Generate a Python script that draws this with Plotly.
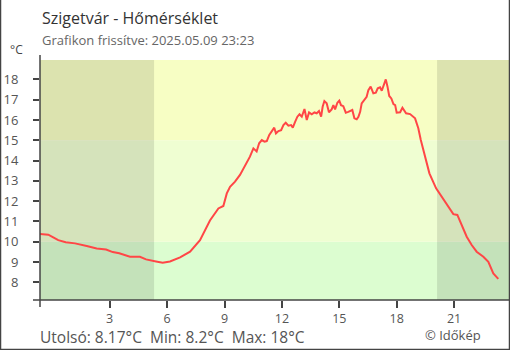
import plotly.graph_objects as go

# ---- data ----
hours = [-0.64, -0.21, 0.05, 0.31, 0.70, 1.19, 1.80, 2.32, 2.81, 3.16, 3.50, 4.06, 4.58, 4.90,
         5.42, 5.77, 6.15, 6.68, 7.20, 7.72, 8.24, 8.68, 8.94, 9.12, 9.29, 9.55, 9.81, 10.07,
         10.33, 10.51, 10.68, 10.81, 10.95, 11.09, 11.21, 11.34, 11.47, 11.60, 11.69, 11.82,
         11.96, 12.08, 12.20, 12.34, 12.48, 12.57, 12.69, 12.81, 12.92, 13.04, 13.18, 13.30,
         13.42, 13.56, 13.70, 13.82, 13.94, 14.05, 14.13, 14.22, 14.34, 14.46, 14.60, 14.69,
         14.78, 14.90, 15.00, 15.09, 15.21, 15.34, 15.47, 15.60, 15.68, 15.79, 15.91, 16.00,
         16.09, 16.17, 16.31, 16.43, 16.52, 16.64, 16.78, 16.91, 17.01, 17.13, 17.22, 17.31,
         17.43, 17.52, 17.61, 17.72, 17.83, 17.92, 18.00, 18.18, 18.30, 18.49, 18.70, 18.96,
         19.13, 19.26, 19.48, 19.71, 20.06, 20.35, 20.62, 20.96, 21.17, 21.40, 21.66, 21.92,
         22.18, 22.53, 22.79, 23.05, 23.31]
temps = [10.38, 10.35, 10.22, 10.08, 9.98, 9.92, 9.79, 9.67, 9.62, 9.49, 9.43, 9.26, 9.26, 9.13,
         9.03, 8.97, 9.03, 9.23, 9.51, 10.08, 11.05, 11.64, 11.76, 12.38, 12.71, 12.96, 13.29, 13.73,
         14.19, 14.60, 14.45, 14.85, 15.01, 14.93, 14.96, 15.26, 15.45, 15.62, 15.34, 15.45,
         15.50, 15.75, 15.86, 15.72, 15.75, 15.62, 15.91, 16.16, 16.28, 16.16, 16.54, 16.00,
         16.37, 16.28, 16.37, 16.33, 16.44, 16.16, 16.65, 16.93, 16.82, 16.38, 16.52, 16.73,
         16.52, 16.85, 16.95, 16.73, 16.68, 16.36, 16.40, 16.45, 16.49, 16.08, 16.03, 16.16,
         16.40, 16.82, 16.98, 17.14, 17.47, 17.64, 17.31, 17.34, 17.56, 17.61, 17.44, 17.67,
         18.00, 17.64, 17.18, 17.06, 16.78, 16.73, 16.36, 16.38, 16.60, 16.33, 16.29, 16.08,
         15.59, 15.01, 14.19, 13.37, 12.63, 12.22, 11.81, 11.36, 11.32, 10.82, 10.25, 9.84,
         9.51, 9.26, 9.01, 8.44, 8.17]

x_tickvals = [3, 6, 9, 12, 15, 18, 21]
y_tickvals = [8, 9, 10, 11, 12, 13, 14, 15, 16, 17, 18]
band_edges = [10, 15]
sunrise = 5.32
sunset = 20.11

title = "Szigetvár - Hőmérséklet"
subtitle = "Grafikon frissítve: 2025.05.09 23:23"
footer = "Utolsó: 8.17°C  Min: 8.2°C  Max: 18°C"
credit = "© Időkép"
unit = "°C"

# ---- layout geometry ----
W, H = 510, 350
ML, MR, MT, MB = 40, 1, 55, 50
PW, PH = W - ML - MR, H - MT - MB
X_RANGE = [-0.643, 23.87]
Y_RANGE = [7.13, 19.2]
Y_BG_TOP = 18.95
FONT = "Open Sans"


def px(x):
    return (x - ML) / PW


def py(y):
    return (H - MB - y) / PH


fig = go.Figure()
fig.add_trace(go.Scatter(x=hours, y=temps, mode="lines",
                         line=dict(color="#ff4646", width=2), hoverinfo="skip",
                         showlegend=False))

shapes = []
band_colors = ["#dcfdd0", "#effed2", "#f7fec4"]
bounds = [Y_RANGE[0]] + band_edges + [Y_BG_TOP]
for i, c in enumerate(band_colors):
    shapes.append(dict(type="rect", xref="x", yref="y", x0=X_RANGE[0], x1=X_RANGE[1],
                       y0=bounds[i], y1=bounds[i + 1], fillcolor=c, line_width=0,
                       layer="below"))
for a, b in [(X_RANGE[0], sunrise), (sunset, X_RANGE[1])]:
    shapes.append(dict(type="rect", xref="x", yref="y", x0=a, x1=b,
                       y0=Y_RANGE[0], y1=Y_BG_TOP, fillcolor="rgba(0,0,0,0.105)",
                       line_width=0, layer="below"))
# axis lines crossing each other
shapes.append(dict(type="line", xref="paper", yref="paper", x0=0, x1=0,
                   y0=py(307), y1=1, line=dict(color="#444", width=1.5)))
shapes.append(dict(type="line", xref="paper", yref="paper", x0=px(33), x1=1,
                   y0=0, y1=0, line=dict(color="#444", width=1.5)))
# frame
shapes.append(dict(type="line", xref="paper", yref="paper", x0=px(0.5), x1=px(0.5),
                   y0=py(0), y1=py(350), line=dict(color="#444", width=1.5)))
shapes.append(dict(type="line", xref="paper", yref="paper", x0=px(509.5), x1=px(509.5),
                   y0=py(0), y1=py(350), line=dict(color="#444", width=1.5)))
shapes.append(dict(type="line", xref="paper", yref="paper", x0=px(0), x1=px(510),
                   y0=py(349.5), y1=py(349.5), line=dict(color="#444", width=1.5)))

annotations = [
    dict(text=title, x=px(40), y=py(18), xref="paper", yref="paper", xanchor="left",
         yanchor="middle", showarrow=False, font=dict(family=FONT, size=16, color="#333")),
    dict(text=subtitle, x=px(40), y=py(40), xref="paper", yref="paper", xanchor="left",
         yanchor="middle", showarrow=False, font=dict(family=FONT, size=13, color="#666")),
    dict(text=unit, x=px(25), y=py(50), xref="paper", yref="paper", xanchor="right",
         yanchor="middle", showarrow=False, font=dict(family=FONT, size=12, color="#444")),
    dict(text=footer, x=px(39), y=py(337), xref="paper", yref="paper", xanchor="left",
         yanchor="middle", showarrow=False, borderpad=0,
         font=dict(family=FONT, size=15.5, color="#555")),
    dict(text=credit, x=px(424), y=py(335), xref="paper", yref="paper", xanchor="left",
         yanchor="middle", showarrow=False, borderpad=0,
         font=dict(family=FONT, size=13, color="#555")),
]

fig.update_layout(
    width=W, height=H, margin=dict(l=ML, r=MR, t=MT, b=MB, pad=0),
    paper_bgcolor="white", plot_bgcolor="white",
    font=dict(family=FONT, color="#555"),
    shapes=shapes, annotations=annotations, showlegend=False,
    xaxis=dict(range=X_RANGE, tickvals=x_tickvals, ticktext=[str(v) for v in x_tickvals],
               ticks="outside", ticklen=7, tickwidth=1.5, tickcolor="#444",
               showgrid=False, zeroline=False, showline=False, fixedrange=True,
               tickfont=dict(family=FONT, size=12.5, color="#555")),
    xaxis2=dict(range=X_RANGE, overlaying="x", anchor="y", side="bottom",
                tickvals=x_tickvals, ticks="inside", ticklen=6, tickwidth=1.5,
                tickcolor="#444", showticklabels=False, showgrid=False,
                zeroline=False, showline=False),
    yaxis=dict(range=Y_RANGE, tickvals=y_tickvals, ticktext=[str(v) for v in y_tickvals],
               ticks="outside", ticklen=6, tickwidth=1.5, tickcolor="#444",
               ticklabelstandoff=12,
               showgrid=False, zeroline=False, showline=False, fixedrange=True,
               tickfont=dict(family=FONT, size=13, color="#555")),
    yaxis2=dict(range=Y_RANGE, overlaying="y", anchor="x", side="left",
                tickvals=y_tickvals, ticks="inside", ticklen=7, tickwidth=1.5,
                tickcolor="#444", showticklabels=False, showgrid=False,
                zeroline=False, showline=False),
)

fig.write_html("out.html")
